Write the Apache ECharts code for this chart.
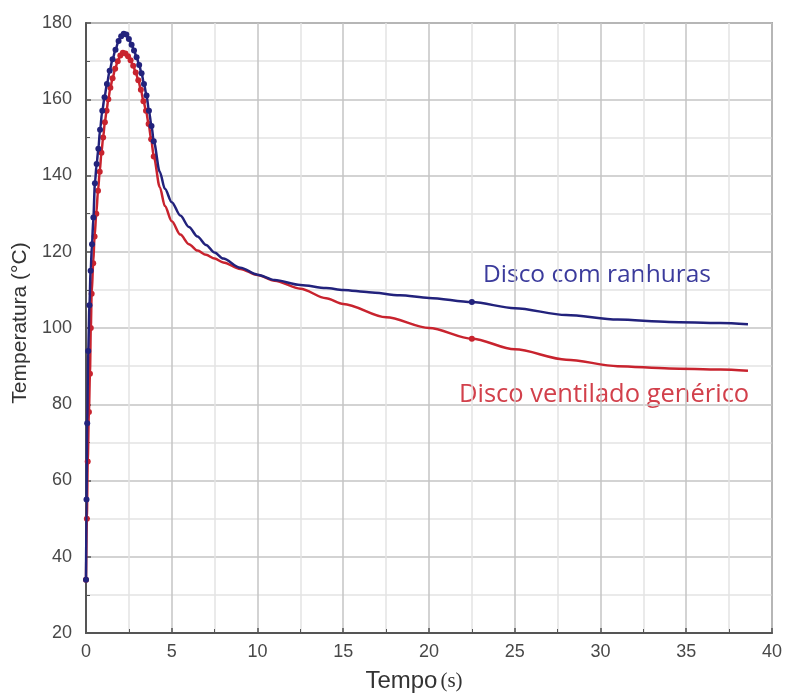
<!DOCTYPE html>
<html>
<head>
<meta charset="utf-8">
<script src="https://cdn.jsdelivr.net/npm/echarts@6/dist/echarts.min.js"></script>
<style>
html,body{margin:0;padding:0;background:#fff;}
#chart{width:785px;height:698px;}
</style>
</head>
<body>
<div id="chart"></div>
<script>
// Disco com ranhuras (blue)
const blueT = [0, 0.03, 0.07, 0.13, 0.2, 0.27, 0.35, 0.43, 0.52, 0.62, 0.72, 0.82, 0.95, 1.08, 1.22, 1.38, 1.55, 1.72, 1.9, 2.05, 2.2, 2.35, 2.5, 2.66, 2.8, 2.95, 3.1, 3.24, 3.38, 3.53, 3.67, 3.82, 3.95, 4.3, 4.6, 5.0, 5.5, 6.0, 6.5, 7.0, 7.5, 8.0, 9.0, 10, 11, 12.5, 14, 15, 16.5, 18.3, 20, 22.5, 25, 28, 31, 34, 37, 38.6];
const blueV = [34, 55, 75, 94, 106, 115, 122, 129, 138, 143, 147, 152, 157, 160.5, 164, 167.5, 170.5, 173, 175.3, 176.5, 177.2, 177, 175.8, 174.3, 172.8, 171, 169, 166.8, 164, 161, 157, 153, 149, 141, 136.5, 133, 129.5, 126.5, 124, 121.8, 119.8, 118.2, 115.8, 114, 112.6, 111.3, 110.5, 110, 109.4, 108.6, 107.9, 106.8, 105.2, 103.4, 102.2, 101.6, 101.3, 101];
// Disco ventilado genérico (red)
const redT = [0, 0.05, 0.1, 0.17, 0.23, 0.28, 0.33, 0.42, 0.5, 0.6, 0.7, 0.8, 0.9, 1.0, 1.1, 1.2, 1.3, 1.42, 1.55, 1.7, 1.85, 2.0, 2.15, 2.3, 2.45, 2.6, 2.75, 2.9, 3.05, 3.2, 3.35, 3.5, 3.65, 3.8, 3.95, 4.3, 4.6, 5.0, 5.5, 6.0, 6.5, 7.0, 7.5, 8.0, 9.0, 10, 11, 12.5, 14, 15, 17.5, 20, 22.5, 25, 28, 31, 34, 37, 38.6];
const redV = [34, 50, 65, 78, 88, 100, 109, 117, 124, 130, 136, 141, 146, 150, 154, 157, 160, 163, 165.5, 168, 170, 171.5, 172.2, 172, 171.3, 170.2, 168.8, 167, 165, 162.5, 159.5, 157, 153.5, 149.5, 145, 137, 132, 128, 124.5, 122, 120.3, 119.2, 118.2, 117.2, 115.5, 113.9, 112.4, 110.3, 107.8, 106.3, 102.8, 100, 97.2, 94.4, 91.7, 90, 89.4, 89.1, 88.8];

const xTicks = [0, 5, 10, 15, 20, 25, 30, 35, 40];
const yTicks = [20, 40, 60, 80, 100, 120, 140, 160, 180];
const seriesNames = ['Disco com ranhuras', 'Disco ventilado genérico'];

const BLUE = '#22227c';
const RED = '#c8232e';

function pairs(t, v) { return t.map((x, i) => [x, v[i]]); }
function markSize(val) {
  return (val[0] <= 4.0 || val[0] === 22.5) ? 6 : 0;
}

const chart = echarts.init(document.getElementById('chart'));
const axisFont = { fontFamily: 'Liberation Sans, Arial, sans-serif', fontSize: 18, color: '#484848' };

chart.setOption({
  animation: false,
  backgroundColor: '#fff',
  grid: { left: 86, top: 23, right: 11, bottom: 61, show: true, borderColor: '#666', borderWidth: 1.5, backgroundColor: 'transparent' },
  xAxis: {
    type: 'value', min: xTicks[0], max: xTicks[xTicks.length - 1], interval: 5,
    name: 'Tempo{s|(s)}', nameLocation: 'middle', nameGap: 36,
    nameTextStyle: { fontFamily: 'Liberation Sans, Arial, sans-serif', fontSize: 24, color: '#333', padding: [0, 30, 0, 0],
      rich: { s: { fontFamily: 'Liberation Serif, serif', fontSize: 21, color: '#333', padding: [0, 0, 0, 3] } } },
    axisLine: { onZero: false, lineStyle: { color: '#555', width: 2 } },
    axisTick: { inside: true, length: 5, lineStyle: { color: '#555', width: 1.5 } },
    minorTick: { show: true, splitNumber: 2, length: 4, lineStyle: { color: '#555' } },
    splitLine: { show: true, lineStyle: { color: '#c4c4c4', width: 1.5 } },
    minorSplitLine: { show: true, lineStyle: { color: '#e4e4e4', width: 1.5 } },
    axisLabel: Object.assign({ margin: 10 }, axisFont)
  },
  yAxis: {
    type: 'value', min: yTicks[0], max: yTicks[yTicks.length - 1], interval: 20,
    name: 'Temperatura (°C)', nameLocation: 'middle', nameGap: 52, nameRotate: 90,
    nameTextStyle: { fontFamily: 'Liberation Sans, Arial, sans-serif', fontSize: 21, color: '#333', padding: [0, 0, 0, 10] },
    axisLine: { onZero: false, lineStyle: { color: '#555', width: 2 } },
    axisTick: { inside: true, length: 5, lineStyle: { color: '#555', width: 1.5 } },
    minorTick: { show: true, splitNumber: 2, length: 4, lineStyle: { color: '#555' } },
    splitLine: { show: true, lineStyle: { color: '#c4c4c4', width: 1.5 } },
    minorSplitLine: { show: true, lineStyle: { color: '#e4e4e4', width: 1.5 } },
    axisLabel: Object.assign({ margin: 14 }, axisFont)
  },
  series: [
    {
      name: seriesNames[1], type: 'line', data: pairs(redT, redV),
      smooth: 0.3, smoothMonotone: 'x', showAllSymbol: true,
      symbol: 'circle', symbolSize: markSize,
      lineStyle: { color: RED, width: 2.5 }, itemStyle: { color: RED },
      z: 3
    },
    {
      name: seriesNames[0], type: 'line', data: pairs(blueT, blueV),
      smooth: 0.3, smoothMonotone: 'x', showAllSymbol: true,
      symbol: 'circle', symbolSize: markSize,
      lineStyle: { color: BLUE, width: 2.5 }, itemStyle: { color: BLUE },
      z: 4
    }
  ],
  graphic: [
    { type: 'text', left: 483, top: 263, style: { text: seriesNames[0], fill: '#3b3b9c', font: '24.5px "Open Sans", "Noto Sans", sans-serif' } },
    { type: 'text', left: 459, top: 382, style: { text: seriesNames[1], fill: '#d2404b', font: '25.5px "Open Sans", "Noto Sans", sans-serif' } }
  ]
});
</script>
</body>
</html>
